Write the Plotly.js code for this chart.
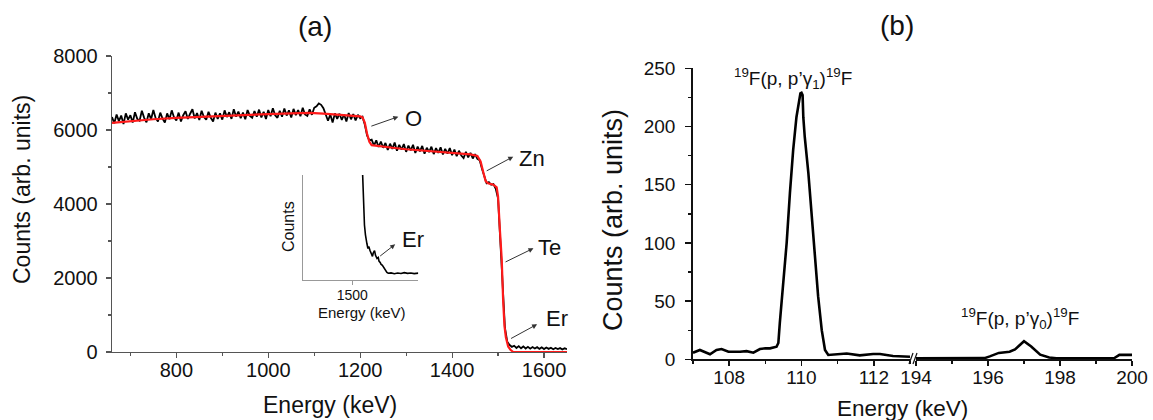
<!DOCTYPE html>
<html>
<head>
<meta charset="utf-8">
<script src="https://cdn.plot.ly/plotly-3.0.1.min.js"></script>
<style>html,body{margin:0;padding:0;background:#fff;}#chart{width:1153px;height:420px;}</style>
</head>
<body>
<div id="chart"></div>
<script>
// ---------- Panel (a): RBS spectrum ----------
const aStartEnergy = 660;   // keV of first channel
const aStepEnergy = 5;      // keV per channel
const aCounts = [
6350,6180,6420,6240,6390,6160,6450,6280,6400,6200,
6480,6300,6250,6520,6330,6210,6450,6290,6540,6320,
6230,6470,6310,6200,6450,6290,6530,6340,6260,6470,
6230,6400,6510,6300,6440,6560,6310,6460,6270,6520,
6350,6280,6490,6330,6230,6470,6300,6450,6280,6530,
6350,6480,6300,6560,6360,6500,6320,6470,6290,6540,
6380,6330,6510,6360,6550,6340,6490,6300,6540,6370,
6590,6400,6330,6520,6360,6580,6390,6530,6340,6570,
6400,6540,6370,6600,6420,6380,6560,6410,6600,6640,
6720,6680,6590,6400,6250,6420,6200,6450,6300,6440,
6270,6420,6230,6460,6290,6430,6260,6410,6320,6360,
6150,5850,5720,5740,5580,5720,5540,5690,5520,5650,
5460,5630,5490,5660,5440,5600,5470,5620,5410,5580,
5450,5600,5380,5550,5420,5570,5360,5520,5400,5550,
5350,5510,5380,5530,5340,5490,5360,5510,5320,5470,
5290,5440,5310,5240,5410,5260,5380,5230,5350,5220,
5180,4950,4720,4560,4590,4520,4540,4410,4150,2900,
1600,650,280,190,140,170,110,160,100,150,
95,140,90,135,95,130,85,125,80,120,
85,115,75,110,80,105,70,100,75
];
const fitEnergy = [660,700,750,800,850,900,950,1000,1050,1090,1120,1150,1190,1200,1205,1210,1215,1220,1225,1240,1270,1300,1350,1400,1440,1455,1462,1468,1473,1478,1490,1497,1500,1504,1508,1511,1514,1517,1522,1527,1533,1650];
const fitCounts = [6190,6240,6290,6330,6360,6390,6410,6430,6450,6465,6440,6410,6380,6370,6340,6200,5900,5680,5590,5560,5520,5480,5430,5390,5340,5300,5150,4850,4620,4560,4520,4450,4200,3300,2500,1400,700,400,150,60,0,0];

// inset (zoom on the Er signal)
const insetEnergy = [1512.6,1513.6,1514.8,1516.0,1516.8,1517.8,1519.0,1520.0,1521.5,1523.3,1524.5,1525.5,1527.0,1528.2,1530,1531.5,1532.4,1534.0,1534.8,1536.5,1537.5,1539.6,1541,1542,1543.6,1547,1551,1555,1559,1563,1567,1571,1575,1580];
const insetCounts = [1000,762,524,430,360,345,300,320,280,250,225,260,280,235,205,215,180,165,150,140,125,95,85,72,64,68,60,66,62,70,63,67,61,65];
const insetTicks = [1500];

const aXTicks = [800,1000,1200,1400,1600];
const aYTicks = [0,2000,4000,6000,8000];

// ---------- Panel (b): PIGE spectrum ----------
const bLeftEnergy = [107.0,107.19,107.47,107.65,107.79,107.98,108.3,108.48,108.67,108.85,109.0,109.13,109.31,109.36,109.40,109.50,109.59,109.68,109.77,109.86,109.94,109.97,110.0,110.03,110.05,110.09,110.19,110.28,110.37,110.46,110.56,110.65,110.74,111.06,111.25,111.61,111.98,112.17,112.53,113.0];
const bLeftCounts = [5.7,8,4.3,8,8.8,6.5,6.5,7,5.7,8.8,9.5,9.4,10.8,14,31,65,100,143,180,208,223,228.5,229,227,208,191,160,122.5,88,54,25,8,3.7,4.3,5,3.4,4.6,4.5,2.8,2.2];
const bRightEnergy = [194.0,195.0,195.9,196.05,196.3,196.6,196.75,197.0,197.2,197.45,197.7,197.9,199.5,199.65,199.9,200.0];
const bRightCounts = [0.9,0.9,1.0,2.5,5.5,6.5,8.5,15.5,11,4,1.5,0.9,0.9,3.8,4.2,3.8];
const bLeftTicks = [108,110,112];
const bRightTicks = [194,196,198,200];
const bYTicks = [0,50,100,150,200,250];

// ---------- build ----------
const W = 1153, H = 420;
const PX = v => v / W, PY = v => 1 - v / H;
const FONT = 'Arial, "Liberation Sans", Helvetica, sans-serif';

const aEnergy = aCounts.map((_, i) => aStartEnergy + i * aStepEnergy);

const traces = [
  {x: aEnergy, y: aCounts, xaxis: 'x', yaxis: 'y', mode: 'lines', line: {color: '#000', width: 1.8}, hoverinfo: 'skip'},
  {x: fitEnergy, y: fitCounts, xaxis: 'x', yaxis: 'y', mode: 'lines', line: {color: '#ff1a1a', width: 2.2}, hoverinfo: 'skip'},
  {x: insetEnergy, y: insetCounts, xaxis: 'x4', yaxis: 'y4', mode: 'lines', line: {color: '#000', width: 1.6}, hoverinfo: 'skip'},
  {x: bLeftEnergy, y: bLeftCounts, xaxis: 'x2', yaxis: 'y2', mode: 'lines', line: {color: '#000', width: 2.6}, hoverinfo: 'skip'},
  {x: bRightEnergy, y: bRightCounts, xaxis: 'x3', yaxis: 'y2', mode: 'lines', line: {color: '#000', width: 2.6}, hoverinfo: 'skip'}
];

const axBase = {showgrid: false, zeroline: false, showline: true, ticks: 'outside', fixedrange: true};

const layout = {
  width: W, height: H,
  margin: {l: 0, r: 0, t: 0, b: 0},
  paper_bgcolor: '#fff', plot_bgcolor: 'rgba(0,0,0,0)',
  showlegend: false,
  font: {family: FONT, color: '#111'},
  xaxis: Object.assign({}, axBase, {
    domain: [PX(112), PX(567)], range: [660, 1650], anchor: 'y',
    tickvals: aXTicks, ticklen: 5, tickwidth: 1.2, linecolor: '#555', tickcolor: '#555', linewidth: 1.3,
    tickfont: {size: 20, family: FONT, color: '#111'}, ticklabelstandoff: -5,
    minor: {dtick: 100, tick0: 0, ticklen: 3, tickcolor: '#555', ticks: 'outside'}
  }),
  yaxis: Object.assign({}, axBase, {
    domain: [PY(352), PY(56)], range: [0, 8000], anchor: 'x',
    tickvals: aYTicks, ticklen: 5, tickwidth: 1.2, linecolor: '#555', tickcolor: '#555', linewidth: 1.3,
    tickfont: {size: 20, family: FONT, color: '#111'}, ticklabelstandoff: 4,
    minor: {dtick: 1000, tick0: 0, ticklen: 3, tickcolor: '#555', ticks: 'outside'}
  }),
  xaxis4: Object.assign({}, axBase, {
    domain: [PX(302.7), PX(418.3)], range: [1440, 1580], anchor: 'y4',
    tickvals: insetTicks, ticklen: 4, linecolor: '#999', tickcolor: '#999', linewidth: 1,
    tickfont: {size: 14, family: FONT, color: '#111'}, ticklabelstandoff: -2
  }),
  yaxis4: Object.assign({}, axBase, {
    domain: [PY(280), PY(175)], range: [0, 1000], anchor: 'x4',
    ticks: '', showticklabels: false, linecolor: '#999', linewidth: 1
  }),
  xaxis2: Object.assign({}, axBase, {
    domain: [PX(693), PX(910)], range: [107, 113], anchor: 'y2',
    tickvals: bLeftTicks, ticklen: 5, tickwidth: 1.4, linecolor: '#111', tickcolor: '#111', linewidth: 1.8,
    tickfont: {size: 19, family: FONT, color: '#111'}, ticklabelstandoff: -5,
    minor: {dtick: 1, tick0: 0, ticklen: 3, tickcolor: '#111', ticks: 'outside'}
  }),
  xaxis3: Object.assign({}, axBase, {
    domain: [PX(916), PX(1132)], range: [194, 200], anchor: 'y2',
    tickvals: bRightTicks, ticklen: 5, tickwidth: 1.4, linecolor: '#111', tickcolor: '#111', linewidth: 1.8,
    tickfont: {size: 19, family: FONT, color: '#111'}, ticklabelstandoff: -5,
    minor: {dtick: 1, tick0: 0, ticklen: 3, tickcolor: '#111', ticks: 'outside'}
  }),
  yaxis2: Object.assign({}, axBase, {
    domain: [PY(359.3), PY(68.3)], range: [0, 250], anchor: 'x2',
    tickvals: bYTicks, ticklen: 6, tickwidth: 1.4, linecolor: '#111', tickcolor: '#111', linewidth: 1.8,
    tickfont: {size: 19, family: FONT, color: '#111'}, ticklabelstandoff: 6,
    minor: {dtick: 25, tick0: 0, ticklen: 3, tickcolor: '#111', ticks: 'outside'}
  }),
  shapes: [
    {type: 'line', xref: 'paper', yref: 'paper', x0: PX(909), y0: PY(364), x1: PX(913), y1: PY(353), line: {color: '#111', width: 1.2}},
    {type: 'line', xref: 'paper', yref: 'paper', x0: PX(913), y0: PY(364), x1: PX(917), y1: PY(353), line: {color: '#111', width: 1.2}}
  ],
  annotations: []
};

const ann = layout.annotations;
function txt(text, x, y, size, extra) {
  ann.push(Object.assign({text: text, xref: 'paper', yref: 'paper', x: PX(x), y: PY(y), xanchor: 'center', yanchor: 'middle', showarrow: false, font: {size: size, family: FONT, color: '#111'}}, extra || {}));
}
function arrowA(hx, hy, tx, ty, xr, yr) {
  ann.push({text: '', x: hx, y: hy, ax: tx, ay: ty, xref: xr, yref: yr, axref: xr, ayref: yr, showarrow: true, arrowhead: 2, arrowsize: 1, arrowwidth: 1, arrowcolor: '#333', standoff: 0, startstandoff: 0, font: {size: 2}});
}
function label(text, x, y, size, xr, yr) {
  ann.push({text: text, x: x, y: y, xref: xr, yref: yr, xanchor: 'center', yanchor: 'middle', showarrow: false, font: {size: size, family: FONT, color: '#111'}});
}

// titles
txt('(a)', 315, 27, 28);
txt('(b)', 897, 25, 28);
txt('Counts (arb. units)', 22, 190, 23, {textangle: -90});
txt('Energy (keV)', 330, 405, 23);
txt('Counts (arb. units)', 613, 220, 27, {textangle: -90});
txt('Energy (keV)', 902, 408, 22.5);
// inset titles
txt('Counts', 288.3, 226.7, 16, {textangle: -90});
txt('Energy (keV)', 361.5, 312, 15);

// element labels panel (a)
label('O', 1316, 6317, 22, 'x', 'y');
arrowA(1283, 6360, 1221, 6090, 'x', 'y');
label('Zn', 1573, 5236, 22, 'x', 'y');
arrowA(1533, 5279, 1472, 4874, 'x', 'y');
label('Te', 1613, 2825, 22, 'x', 'y');
arrowA(1577, 2803, 1513, 2414, 'x', 'y');
label('Er', 1629, 919, 22, 'x', 'y');
arrowA(1585, 749, 1525, 343, 'x', 'y');
// inset label
label('Er', 1573, 390, 22, 'x4', 'y4');
arrowA(1552, 340, 1532, 217, 'x4', 'y4');

// panel (b) labels
txt('<sup>19</sup>F(p, p’γ<sub>1</sub>)<sup>19</sup>F', 793, 78, 19);
txt('<sup>19</sup>F(p, p’γ<sub>0</sub>)<sup>19</sup>F', 1020, 318, 19);

Plotly.newPlot('chart', traces, layout, {staticPlot: true, displayModeBar: false});
</script>
</body>
</html>
